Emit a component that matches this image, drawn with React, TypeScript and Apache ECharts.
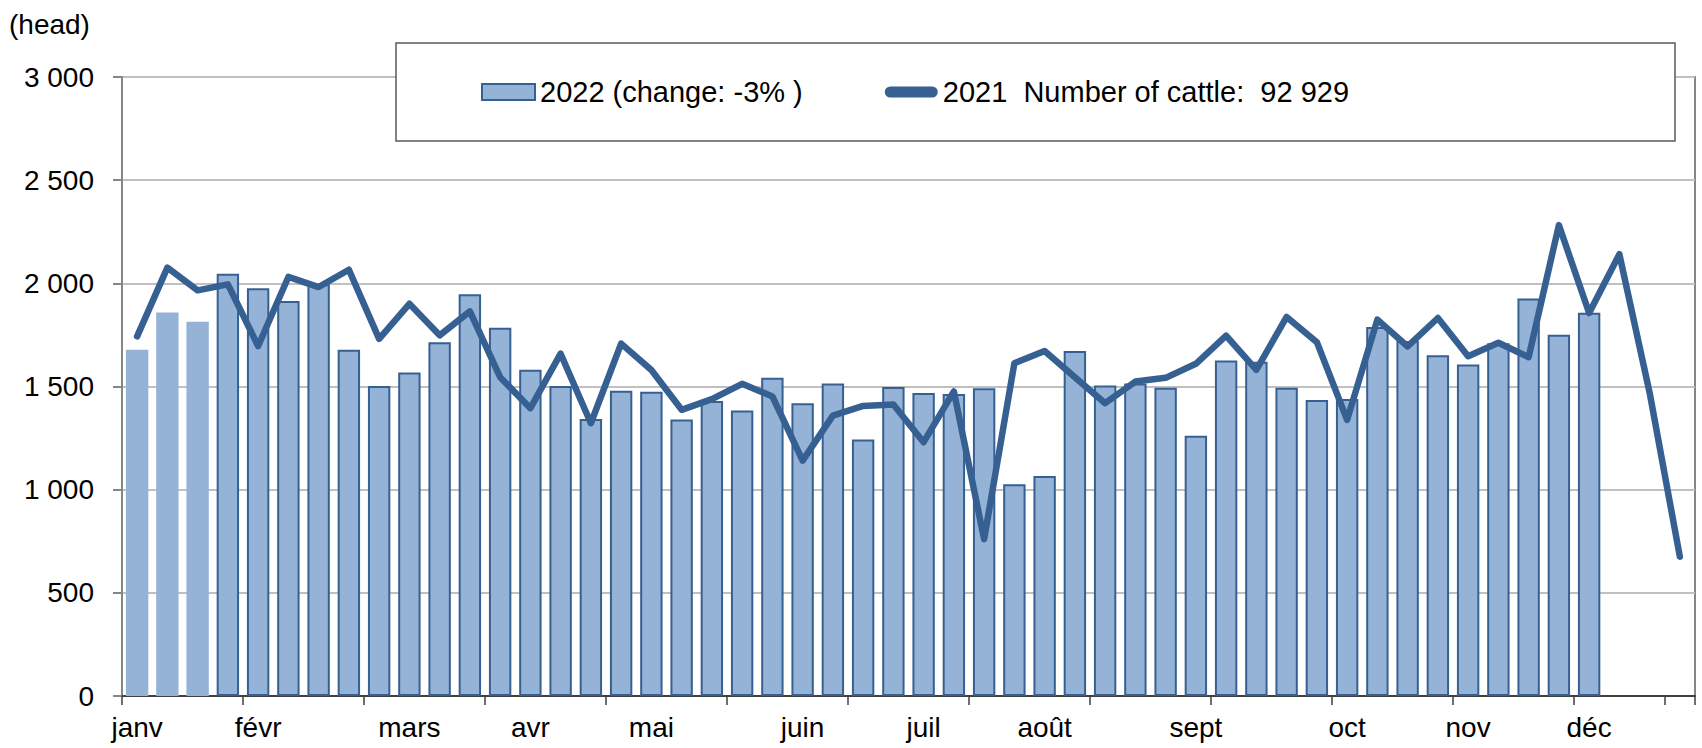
import React, { useEffect, useRef } from "react";
import * as echarts from "echarts";

const weeks: string[] = Array.from({ length: 52 }, (_, i) => String(i + 1));

const monthLabels: string[] = [
  "janv", "", "", "", "févr", "", "", "", "", "mars", "", "", "", "avr", "", "", "",
  "mai", "", "", "", "", "juin", "", "", "", "juil", "", "", "", "août", "", "", "", "",
  "sept", "", "", "", "", "oct", "", "", "", "nov", "", "", "", "déc", "", "", "",
];

const cattle2022: number[] = [
  1678, 1859, 1814, 2047, 1976, 1914, 1995, 1678, 1503, 1568,
  1714, 1947, 1785, 1581, 1503, 1342, 1479, 1474, 1340, 1430,
  1384, 1542, 1419, 1515, 1243, 1498, 1468, 1464, 1492, 1026,
  1066, 1672, 1505, 1515, 1494, 1261, 1626, 1620, 1494, 1434,
  1440, 1788, 1720, 1652, 1607, 1710, 1926, 1751, 1858,
];

const cattle2021: number[] = [
  1743, 2076, 1966, 1995, 1696, 2031, 1982, 2066, 1731, 1901,
  1748, 1864, 1545, 1395, 1659, 1322, 1708, 1580, 1387, 1439,
  1513, 1452, 1141, 1359, 1406, 1413, 1230, 1476, 760, 1613,
  1672, 1545, 1419, 1524, 1542, 1610, 1746, 1581, 1837, 1715,
  1338, 1824, 1694, 1832, 1647, 1712, 1642, 2282, 1856, 2141,
  1470, 675,
];

const noBorderBars = 3;

const name2022 = "2022 (change: -3% )";
const name2021 = "2021  Number of cattle:  92 929";
const unitLabel = "(head)";

const FONT = "'Liberation Sans', Arial, sans-serif";
const BAR_FILL = "#95b3d7";
const DARK_BLUE = "#376092";

function fmt(v: number): string {
  return String(v).replace(/\B(?=(\d{3})+(?!\d))/g, " ");
}

export default function App() {
  const ref = useRef<HTMLDivElement>(null);

  useEffect(() => {
    if (!ref.current) return;
    const chart = echarts.init(ref.current, undefined, { renderer: "svg" });
    chart.setOption({
      animation: false,
      backgroundColor: "#ffffff",
      textStyle: { fontFamily: FONT, color: "#000" },
      title: {
        text: unitLabel,
        left: 9,
        top: 10,
        padding: 0,
        textStyle: { fontFamily: FONT, fontSize: 28, fontWeight: "normal", color: "#000" },
      },
      grid: {
        left: 122,
        right: 7,
        top: 77,
        bottom: 52,
        show: true,
        borderColor: "#868686",
        borderWidth: 2,
        backgroundColor: "transparent",
      },
      graphic: [
        {
          type: "rect",
          z: 10,
          shape: { x: 396, y: 43, width: 1279, height: 98 },
          style: { fill: "#ffffff", stroke: "#595959", lineWidth: 1.5 },
        },
      ],
      legend: {
        z: 20,
        left: 481,
        top: 77,
        padding: 0,
        itemWidth: 53,
        itemHeight: 16,
        itemGap: 82,
        selectedMode: false,
        textStyle: { fontFamily: FONT, fontSize: 29, color: "#000", lineHeight: 30 },
        data: [
          { name: name2022, icon: "rect" },
          { name: name2021, icon: "path://M6,0H51A6,6,0,0,1,51,12H6A6,6,0,0,1,6,0Z" },
        ],
      },
      xAxis: {
        type: "category",
        data: weeks,
        boundaryGap: true,
        axisLine: { show: true, lineStyle: { color: "#404040", width: 2 } },
        axisTick: { show: true, interval: 3, length: 9, lineStyle: { color: "#404040", width: 1.5 } },
        axisLabel: {
          interval: 0,
          margin: 17,
          fontSize: 28,
          fontFamily: FONT,
          color: "#000",
          formatter: (_v: string, i: number) => monthLabels[i] || "",
        },
        splitLine: { show: false },
      },
      yAxis: {
        type: "value",
        min: 0,
        max: 3000,
        interval: 500,
        axisLine: { show: true, lineStyle: { color: "#868686", width: 2 } },
        axisTick: { show: true, length: 9, lineStyle: { color: "#868686", width: 2 } },
        axisLabel: {
          margin: 28,
          fontSize: 28,
          fontFamily: FONT,
          color: "#000",
          formatter: (v: number) => fmt(v),
        },
        splitLine: { show: true, lineStyle: { color: "#c0c0c0", width: 2 } },
      },
      series: [
        {
          name: name2022,
          type: "bar",
          barCategoryGap: "26%",
          itemStyle: { color: BAR_FILL, borderColor: DARK_BLUE, borderWidth: 2 },
          data: cattle2022.map((v, i) =>
            i < noBorderBars ? { value: v, itemStyle: { borderWidth: 0 } } : v
          ),
          z: 2,
        },
        {
          name: name2021,
          type: "line",
          data: cattle2021,
          symbol: "none",
          showSymbol: false,
          color: DARK_BLUE,
          lineStyle: { color: DARK_BLUE, width: 6.5, cap: "round", join: "round" },
          z: 3,
        },
      ],
    });
    return () => chart.dispose();
  }, []);

  return (
    <div
      ref={ref}
      style={{ position: "fixed", left: 0, top: 0, width: "1702px", height: "748px" }}
    />
  );
}
